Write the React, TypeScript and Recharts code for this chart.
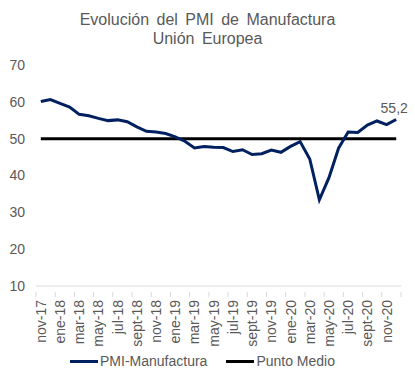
import { LineChart, Line, XAxis, YAxis, Legend, LabelList } from "recharts"

document.body.style.margin = "0"

const months = [
  "nov-17", "dic-17",
  "ene-18", "feb-18", "mar-18", "abr-18", "may-18", "jun-18", "jul-18", "ago-18", "sept-18", "oct-18", "nov-18", "dic-18",
  "ene-19", "feb-19", "mar-19", "abr-19", "may-19", "jun-19", "jul-19", "ago-19", "sept-19", "oct-19", "nov-19", "dic-19",
  "ene-20", "feb-20", "mar-20", "abr-20", "may-20", "jun-20", "jul-20", "ago-20", "sept-20", "oct-20", "nov-20", "dic-20",
]

const pmi = [
  60.1, 60.6,
  59.6, 58.6, 56.6, 56.2, 55.5, 54.9, 55.1, 54.6, 53.2, 52.0, 51.8, 51.4,
  50.5, 49.3, 47.5, 47.9, 47.7, 47.6, 46.5, 47.0, 45.7, 45.9, 46.9, 46.3,
  47.9, 49.2, 44.5, 33.4, 39.4, 47.4, 51.8, 51.7, 53.7, 54.8, 53.8, 55.2,
]

const puntoMedio = [
  50, 50,
  50, 50, 50, 50, 50, 50, 50, 50, 50, 50, 50, 50,
  50, 50, 50, 50, 50, 50, 50, 50, 50, 50, 50, 50,
  50, 50, 50, 50, 50, 50, 50, 50, 50, 50, 50, 50,
]

const yTicks = [10, 20, 30, 40, 50, 60, 70]

const data = months.map((m, i) => ({ mes: m, pmi: pmi[i], medio: puntoMedio[i] }))

const FONT = "'Liberation Sans', Arial, sans-serif"
const GRAY = "#595959"
const NAVY = "#002060"
const PAD = 4.8
const STEP = (365 - 2 * PAD) / (months.length - 1)

function MonthTick(props: any) {
  const { x, y, payload } = props
  const last = payload.value === months[months.length - 2]
  return (
    <g>
      <line x1={x - STEP / 2} y1={y - 2} x2={x - STEP / 2} y2={y + 3} stroke="#d9d9d9" />
      {last && <line x1={x + STEP * 1.5} y1={y - 2} x2={x + STEP * 1.5} y2={y + 3} stroke="#d9d9d9" />}
      <text
        x={x}
        y={y + 6}
        transform={`rotate(-90, ${x}, ${y + 6})`}
        textAnchor="end"
        dominantBaseline="central"
        fill={GRAY}
        fontSize={14}
        fontFamily={FONT}
      >
        {payload.value}
      </text>
    </g>
  )
}

function LastLabel(props: any) {
  const { x, y, index, value } = props
  if (index !== pmi.length - 1) return null
  return (
    <text x={x - 2} y={y - 7} textAnchor="middle" fill={GRAY} fontSize={14} fontFamily={FONT}>
      {String(value).replace(".", ",")}
    </text>
  )
}

function LegendBox() {
  const items = [
    { label: "PMI-Manufactura", color: NAVY },
    { label: "Punto Medio", color: "#000000" },
  ]
  return (
    <div style={{ height: 26, display: "flex", justifyContent: "center", alignItems: "center", gap: 19, paddingLeft: 4 }}>
      {items.map((it) => (
        <div key={it.label} style={{ display: "flex", alignItems: "center" }}>
          <div style={{ width: 28, height: 3, background: it.color, marginRight: 2 }} />
          <span style={{ fontFamily: FONT, fontSize: 14, color: GRAY }}>{it.label}</span>
        </div>
      ))}
    </div>
  )
}

export default function App() {
  return (
    <div style={{ position: "relative", width: 415, height: 381, background: "#fff" }}>
      <div
        style={{
          position: "absolute",
          top: 10,
          left: 0,
          width: 415,
          textAlign: "center",
          fontFamily: FONT,
          fontSize: 16,
          lineHeight: "19px",
          color: GRAY,
          wordSpacing: 3,
        }}
      >
        Evolución del PMI de Manufactura
        <br />
        Unión Europea
      </div>
      <LineChart width={415} height={381} data={data} margin={{ top: 65, right: 14, bottom: 7, left: 0 }}>
        <XAxis
          dataKey="mes"
          interval={1}
          tickLine={false}
          axisLine={{ stroke: "#d9d9d9" }}
          tick={<MonthTick />}
          padding={{ left: PAD, right: PAD }}
          height={62}
        />
        <YAxis
          domain={[10, 70]}
          ticks={yTicks}
          width={36}
          axisLine={false}
          tickLine={false}
          tickSize={0}
          tickMargin={11}
          tick={{ fill: GRAY, fontSize: 14, fontFamily: FONT }}
        />
        <Legend verticalAlign="bottom" content={<LegendBox />} />
        <Line
          dataKey="medio"
          name="Punto Medio"
          stroke="#000000"
          strokeWidth={3}
          dot={false}
          isAnimationActive={false}
        />
        <Line
          dataKey="pmi"
          name="PMI-Manufactura"
          stroke={NAVY}
          strokeWidth={3}
          dot={false}
          isAnimationActive={false}
        >
          <LabelList dataKey="pmi" content={<LastLabel />} />
        </Line>
      </LineChart>
    </div>
  )
}
